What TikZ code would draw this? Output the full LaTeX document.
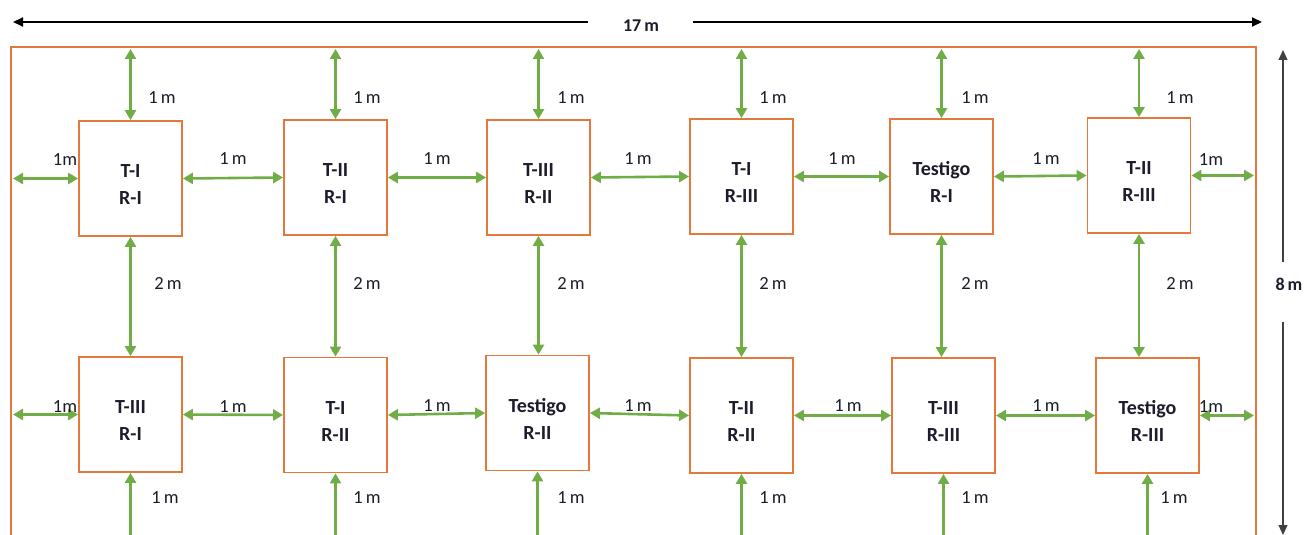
\documentclass[tikz,border=0pt]{standalone}
\usepackage{fontspec}
\setmainfont{Carlito}
\usetikzlibrary{arrows.meta}
\definecolor{plotgreen}{HTML}{70AD47}
\definecolor{plotorange}{HTML}{E4783A}
\definecolor{txt}{HTML}{1C1C2C}
\newcommand{\dropline}{\rule{0pt}{25pt}}
\tikzset{
  plotbox/.style={draw=plotorange, line width=1.8pt, minimum width=103pt, minimum height=115pt, inner sep=0pt, align=center, font=\fontsize{20}{27}\selectfont\bfseries, text=txt},
  gap/.style={draw=plotgreen, line width=2.6pt, {Triangle[length=10pt,width=11pt]}-{Triangle[length=10pt,width=11pt]}},
  lbl/.style={font=\fontsize{18.5}{20}\selectfont, text=txt, inner sep=0pt},
  dimlbl/.style={font=\fontsize{18}{20}\selectfont\bfseries, text=txt, inner sep=0pt},
  dimline/.style={line width=1.8pt, black, -{Triangle[length=10pt,width=9pt]}},
  dimlinev/.style={line width=1.2pt, black!75, -{Triangle[length=10pt,width=9pt]}}
}
\begin{document}
\begin{tikzpicture}[x=1pt,y=-1pt]
\useasboundingbox (0,0) rectangle (1307,535);
\begin{scope}
\clip (0,0) rectangle (1307,535);
% outer field
\draw[plotorange, line width=1.8pt] (11,47) rectangle (1256,560);
\coordinate (OL) at (13,0);
\coordinate (OR) at (1254,0);
\coordinate (OT) at (0,49);
\coordinate (OB) at (0,560);
% plots top row
\node[plotbox] (a1) at (130.5,178.5) {\dropline T-I\\R-I};
\node[plotbox] (a2) at (335.5,177.5) {\dropline T-II\\R-I};
\node[plotbox] (a3) at (538.5,177.5) {\dropline T-III\\R-II};
\node[plotbox] (a4) at (741.5,176.5) {\dropline T-I\\R-III};
\node[plotbox] (a5) at (941.5,176.5) {\dropline Testigo\\R-I};
\node[plotbox] (a6) at (1139,175.5) {\dropline T-II\\R-III};
% plots bottom row
\node[plotbox] (b1) at (130.5,414.5) {\dropline T-III\\R-I};
\node[plotbox] (b2) at (335.5,415) {\dropline T-I\\R-II};
\node[plotbox] (b3) at (537.5,413) {\dropline Testigo\\R-II};
\node[plotbox] (b4) at (741.5,415.5) {\dropline T-II\\R-II};
\node[plotbox] (b5) at (943.5,415.5) {\dropline T-III\\R-III};
\node[plotbox] (b6) at (1147.5,415.5) {\dropline Testigo\\R-III};
% horizontal gaps
\foreach \r in {a,b}{
  \draw[gap] (\r1.west -| OL) -- (\r1.west);
  \draw[gap] (\r1.east) -- (\r2.west);
  \draw[gap] (\r2.east) -- (\r3.west);
  \draw[gap] (\r3.east) -- (\r4.west);
  \draw[gap] (\r4.east) -- (\r5.west);
  \draw[gap] (\r5.east) -- (\r6.west);
  \draw[gap] (\r6.east) -- (\r6.east -| OR);
}
% vertical gaps
\foreach \i in {1,...,6}{
  \draw[gap] (a\i.north |- OT) -- (a\i.north);
  \draw[gap] (a\i.south) -- (a\i.south |- b\i.north);
  \draw[gap] (b\i.south) -- (b\i.south |- OB);
}
\end{scope}
% labels horizontal
\node[lbl] at (65,160) {1m};
\node[lbl] at (233,159) {1\,m};
\node[lbl] at (437,159) {1\,m};
\node[lbl] at (638,159) {1\,m};
\node[lbl] at (842,159) {1\,m};
\node[lbl] at (1046,159) {1\,m};
\node[lbl] at (1211,160) {1m};
\node[lbl] at (65,407) {1m};
\node[lbl] at (233,407) {1\,m};
\node[lbl] at (437,406) {1\,m};
\node[lbl] at (638,406) {1\,m};
\node[lbl] at (848,406) {1\,m};
\node[lbl] at (1046,406) {1\,m};
\node[lbl] at (1211,407) {1m};
% labels vertical
\foreach \x in {162,367,571,773,975,1180}{
  \node[lbl] at (\x,98) {1\,m};
}
\foreach \x in {168,367,571,773,975,1180}{
  \node[lbl] at (\x,283) {2\,m};
}
\foreach \x in {165,367,571,773,975,1174}{
  \node[lbl] at (\x,498) {1\,m};
}
% overall dimensions
\node[dimlbl] (w) at (641,26) {17\,m};
\coordinate (wl) at (13,22);
\coordinate (wr) at (1262,22);
\coordinate (wls) at (588,22);
\coordinate (wrs) at (693,22);
\draw[dimline] (wls) -- (wl);
\draw[dimline] (wrs) -- (wr);
\node[dimlbl] (h) at (1289,284) {8\,m};
\coordinate (ht) at (1283,50);
\coordinate (hb) at (1283,535);
\coordinate (hts) at (1283,262);
\coordinate (hbs) at (1283,322);
\draw[dimlinev] (hts) -- (ht);
\draw[dimlinev] (hbs) -- (hb);
\end{tikzpicture}
\end{document}
